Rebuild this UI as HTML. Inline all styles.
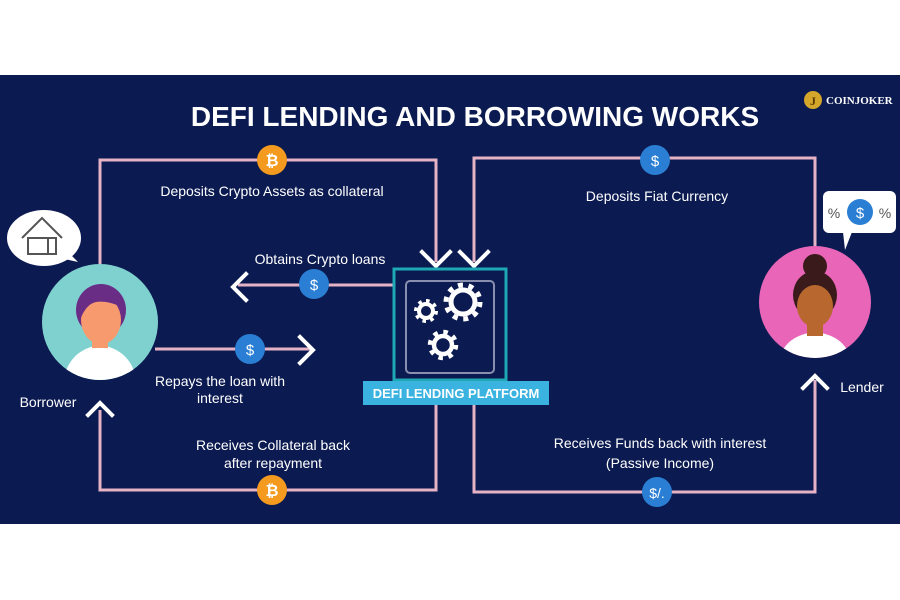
<!DOCTYPE html>
<html><head><meta charset="utf-8"><style>
html,body{margin:0;padding:0;background:#fff;}
svg{display:block;font-family:"Liberation Sans",sans-serif;}
</style></head><body>
<svg width="900" height="600" viewBox="0 0 900 600" xmlns="http://www.w3.org/2000/svg">
<rect x="0" y="0" width="900" height="600" fill="#fff"/>
<rect x="0" y="75" width="900" height="449" fill="#0b1a50"/>
<text x="475" y="126" text-anchor="middle" fill="#fff" font-size="28" font-weight="bold">DEFI LENDING AND BORROWING WORKS</text>
<!-- logo -->
<circle cx="813" cy="100" r="9" fill="#d4a62a"/>
<text x="813" y="105" text-anchor="middle" fill="#5a3a00" font-size="12" font-weight="bold" font-family="Liberation Serif,serif">J</text>
<text x="826" y="104" fill="#fff" font-size="11" font-weight="bold" font-family="Liberation Serif,serif">COINJOKER</text>

<g fill="none" stroke="#e6b3c6" stroke-width="3">
<polyline points="100,265 100,160 436,160 436,262"/>
<polyline points="474,262 474,158 815,158 815,247"/>
<polyline points="100,410 100,490 436,490 436,404"/>
<polyline points="474,404 474,492 815,492 815,380"/>
<line x1="238" y1="285" x2="393" y2="285"/>
<line x1="155" y1="349" x2="312" y2="349"/>
</g>
<g fill="none" stroke="#fff" stroke-width="4" stroke-linecap="square">
<polyline points="422,252 436,266 450,252"/>
<polyline points="460,252 474,266 488,252"/>
<polyline points="246,274 233,287 246,300"/>
<polyline points="300,337 313,350 300,363"/>
<polyline points="88,415 100,403 112,415"/>
<polyline points="803,388 815,376 827,388"/>
</g>

<!-- coins -->
<circle cx="272" cy="160" r="15" fill="#f39a1f"/><text x="272" y="166" text-anchor="middle" fill="#fff" font-size="16" font-weight="bold">₿</text>
<circle cx="655" cy="160" r="15" fill="#2a7fd4"/><text x="655" y="166" text-anchor="middle" fill="#fff" font-size="15">$</text>
<circle cx="314" cy="284" r="15" fill="#2a7fd4"/><text x="314" y="290" text-anchor="middle" fill="#fff" font-size="15">$</text>
<circle cx="250" cy="349" r="15" fill="#2a7fd4"/><text x="250" y="355" text-anchor="middle" fill="#fff" font-size="15">$</text>
<circle cx="272" cy="490" r="15" fill="#f39a1f"/><text x="272" y="496" text-anchor="middle" fill="#fff" font-size="16" font-weight="bold">₿</text>
<circle cx="657" cy="492" r="15" fill="#2a7fd4"/><text x="657" y="498" text-anchor="middle" fill="#fff" font-size="14">$/.</text>

<g fill="#fff" font-size="14" text-anchor="middle">
<text x="272" y="196">Deposits Crypto Assets as collateral</text>
<text x="657" y="201">Deposits Fiat Currency</text>
<text x="320" y="264">Obtains Crypto loans</text>
<text x="220" y="386">Repays the loan with</text>
<text x="220" y="403">interest</text>
<text x="273" y="450">Receives Collateral back</text>
<text x="273" y="468">after repayment</text>
<text x="660" y="448">Receives Funds back with interest</text>
<text x="660" y="468">(Passive Income)</text>
<text x="48" y="407">Borrower</text>
<text x="862" y="392">Lender</text>
</g>

<!-- platform -->
<rect x="394" y="269" width="112" height="111" fill="none" stroke="#1fa8b5" stroke-width="3"/>
<rect x="406" y="281" width="88" height="92" rx="4" fill="none" stroke="#8a8fb0" stroke-width="2"/>
<g fill="none" stroke="#fff">
<circle cx="426" cy="311" r="7" stroke-width="4"/><circle cx="426" cy="311" r="10" stroke-width="4" stroke-dasharray="3.5 4.3"/>
<circle cx="463" cy="302" r="12" stroke-width="5"/><circle cx="463" cy="302" r="17" stroke-width="5" stroke-dasharray="5 5.7"/>
<circle cx="443" cy="345" r="9" stroke-width="4.5"/><circle cx="443" cy="345" r="13" stroke-width="4.5" stroke-dasharray="4.5 5.7"/>
</g>
<rect x="363" y="381" width="186" height="24" fill="#3bb3e0"/>
<text x="456" y="398" text-anchor="middle" fill="#fff" font-size="13" font-weight="bold">DEFI LENDING PLATFORM</text>

<!-- borrower -->
<ellipse cx="44" cy="238" rx="37" ry="28" fill="#fff"/>
<polygon points="60,258 78,262 66,250" fill="#fff"/>
<g fill="none" stroke="#555" stroke-width="2"><polyline points="22,238 42,218 62,238"/><rect x="28" y="238" width="28" height="16"/><line x1="48" y1="238" x2="48" y2="254"/></g>
<circle cx="100" cy="322" r="58" fill="#7fd1cf"/>
<clipPath id="cb"><circle cx="100" cy="322" r="58"/></clipPath>
<g clip-path="url(#cb)">
<path d="M62,392 Q64,350 100,345 Q136,350 138,392 Z" fill="#fff"/>
<rect x="92" y="330" width="16" height="18" fill="#f79a6d"/>
<ellipse cx="101" cy="310" rx="25" ry="26" fill="#6a2d86"/>
<ellipse cx="101" cy="320" rx="20" ry="24" fill="#f79a6d"/>
<path d="M78,312 Q80,288 102,290 Q122,290 124,308 Q108,300 96,302 Q86,304 80,320 Z" fill="#6a2d86"/>
</g>
<!-- lender -->
<rect x="823" y="191" width="73" height="42" rx="6" fill="#fff"/>
<polygon points="843,232 852,232 845,250" fill="#fff"/>
<circle cx="860" cy="212" r="13" fill="#2a7fd4"/><text x="860" y="218" text-anchor="middle" fill="#fff" font-size="15">$</text>
<text x="834" y="218" text-anchor="middle" fill="#555" font-size="14">%</text>
<text x="885" y="218" text-anchor="middle" fill="#555" font-size="14">%</text>
<circle cx="815" cy="302" r="56" fill="#e965b8"/>
<clipPath id="cl"><circle cx="815" cy="302" r="56"/></clipPath>
<g clip-path="url(#cl)">
<path d="M778,368 Q780,336 815,332 Q850,336 852,368 Z" fill="#fff"/>
<rect x="807" y="318" width="16" height="18" fill="#b8682e"/>
<circle cx="815" cy="266" r="12" fill="#3a1a1a"/>
<ellipse cx="815" cy="295" rx="22" ry="24" fill="#3a1a1a"/>
<ellipse cx="815" cy="306" rx="18" ry="21" fill="#b8682e"/>
</g>
</svg>
</body></html>
